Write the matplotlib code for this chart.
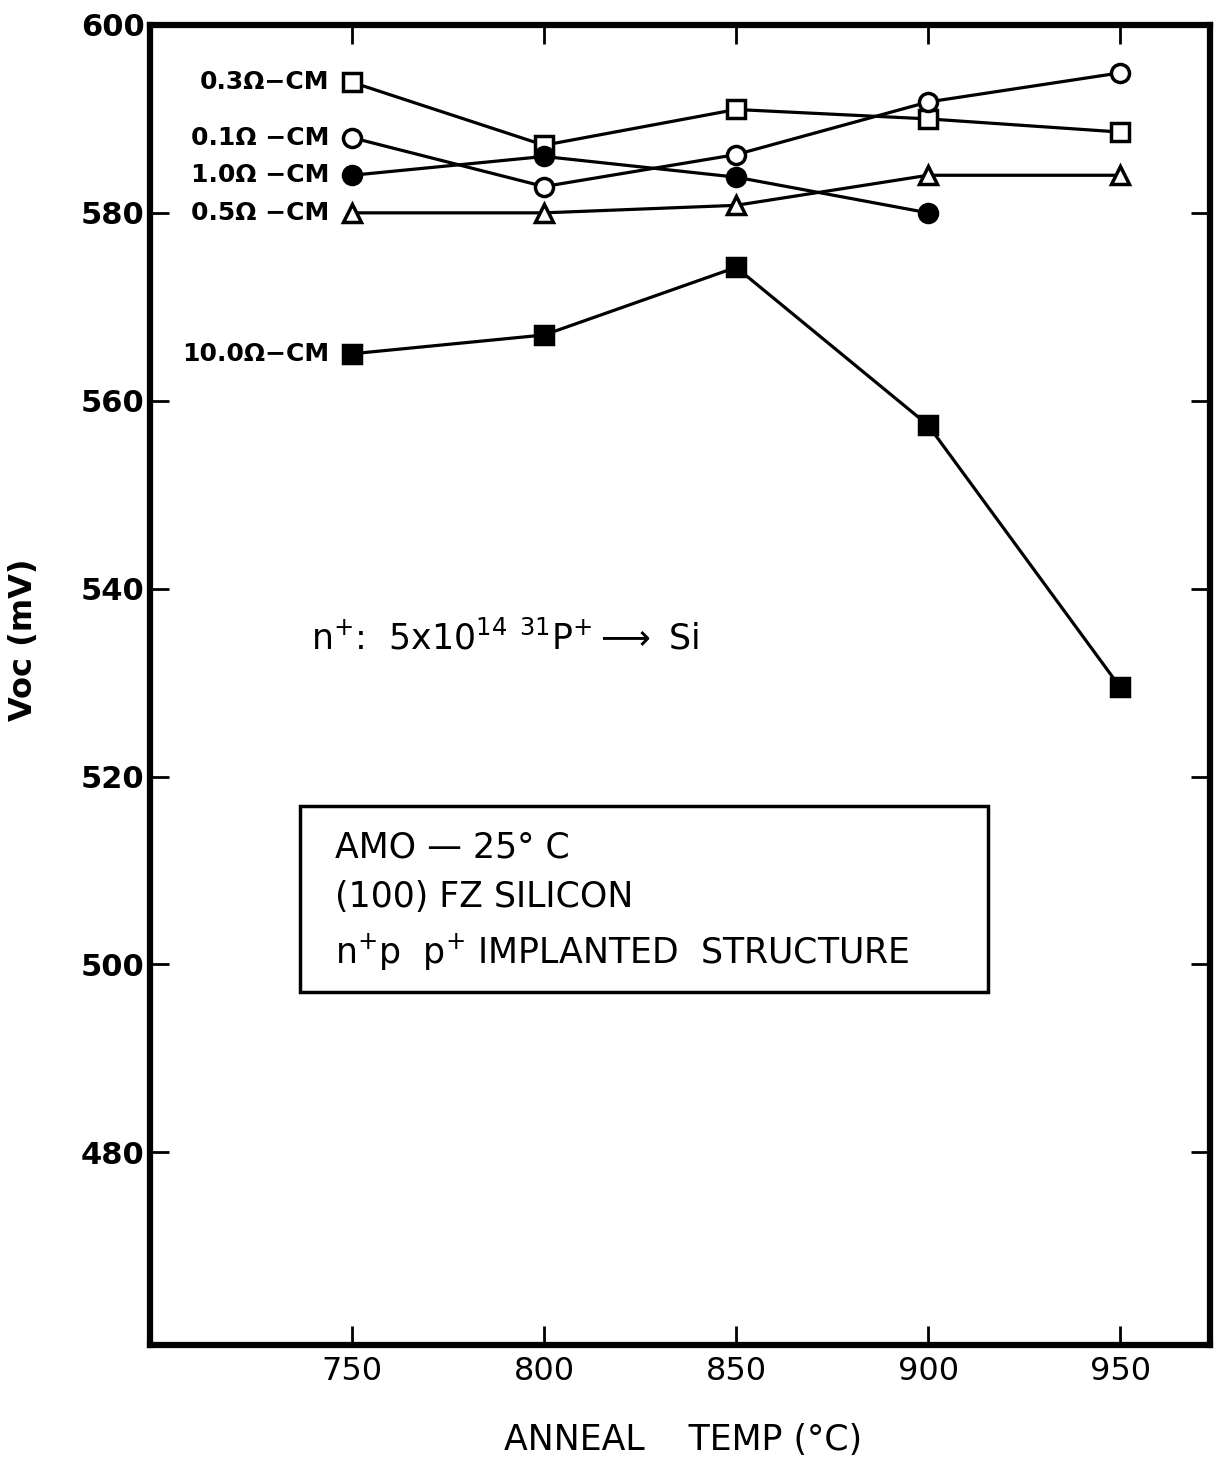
import matplotlib
matplotlib.use("Agg")
import matplotlib.pyplot as plt
from matplotlib.patches import Rectangle

# Anneal temperatures (deg C)
temps = [750, 800, 850, 900, 950]

# Voc (mV) for each resistivity
voc_03 = [593.9, 587.2, 591.0, 590.0, 588.6]
voc_01 = [588.0, 582.8, 586.2, 591.8, 594.9]
voc_10 = [584.0, 586.0, 583.8, 580.0]
voc_05 = [580.0, 580.0, 580.8, 584.0, 584.0]
voc_100 = [565.0, 567.0, 574.2, 557.4, 529.5]

series_labels = ["0.3Ω−CM", "0.1Ω −CM", "1.0Ω −CM", "0.5Ω −CM", "10.0Ω−CM"]
x_ticks = [750, 800, 850, 900, 950]
y_ticks = [480, 500, 520, 540, 560, 580, 600]
box_lines = ["AMO — 25° C", "(100) FZ SILICON",
             r"n$^{+}$p  p$^{+}$ IMPLANTED  STRUCTURE"]

fig = plt.figure(figsize=(12.27, 14.58), dpi=100)
ax = fig.add_axes([0.1222, 0.0775, 0.8640, 0.9054])

line_kw = dict(color="black", linewidth=2.3, markersize=13, markeredgewidth=2.5)
ax.plot(temps, voc_03, marker="s", markerfacecolor="white", **line_kw)
ax.plot(temps, voc_01, marker="o", markerfacecolor="white", **line_kw)
ax.plot(temps[:4], voc_10, marker="o", markerfacecolor="black", **line_kw)
ax.plot(temps, voc_05, marker="^", markerfacecolor="white", **line_kw)
ax.plot(temps, voc_100, marker="s", markerfacecolor="black", **line_kw)

# Series labels left of the first points
label_y = [voc_03[0], voc_01[0], voc_10[0], voc_05[0], voc_100[0]]
for text, yv in zip(series_labels, label_y):
    ax.text(744, yv, text, ha="right", va="center", fontsize=18,
            fontweight="bold")

ax.set_xlim(697.4, 973.4)
ax.set_ylim(459.5, 600)
ax.set_xticks(x_ticks)
ax.set_yticks(y_ticks)
ax.tick_params(direction="in", length=14, width=2, top=True, right=True)
ax.tick_params(axis="x", labelsize=23, pad=8)
ax.tick_params(axis="y", labelsize=22, pad=4)
for lab in ax.get_yticklabels():
    lab.set_fontweight("bold")
for spine in ax.spines.values():
    spine.set_linewidth(4.5)

# Axis titles placed in figure coordinates
fig.text(0.5566, 0.0123, "ANNEAL    TEMP (°C)", fontsize=25,
         ha="center", va="center")
fig.text(0.019, 0.561, "Voc (mV)", fontsize=23, fontweight="bold",
         rotation=90, ha="center", va="center")

ax.text(0.152, 0.5356, r"n$^{+}$:  5x10$^{14}$ $^{31}$P$^{+}$$\longrightarrow$ Si",
        transform=ax.transAxes, fontsize=25, va="center")

# Info box
ax.add_patch(Rectangle((0.1415, 0.2674), 0.6491, 0.1409, transform=ax.transAxes,
                       facecolor="white", edgecolor="black", linewidth=2.5))
for text, yy in zip(box_lines, [0.3765, 0.3394, 0.2977]):
    ax.text(0.1745, yy, text, transform=ax.transAxes, fontsize=25, va="center")

fig.savefig("out.png", dpi=100)
